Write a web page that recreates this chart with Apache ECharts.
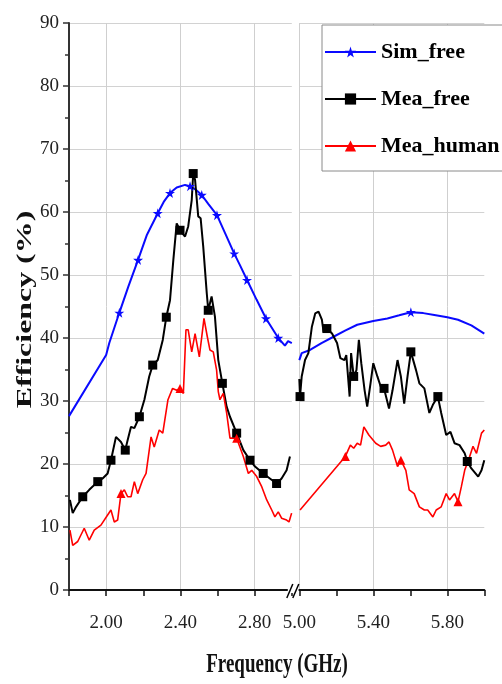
<!DOCTYPE html>
<html>
<head>
<meta charset="utf-8">
<script src="https://cdn.jsdelivr.net/npm/echarts@6/dist/echarts.min.js"></script>
<style>
html,body{margin:0;padding:0;background:#fff;}
#chart{width:502px;height:684px;}
</style>
</head>
<body>
<div id="chart"></div>
<script>
// ---- data ----
const seriesNames = ['Sim_free', 'Mea_free', 'Mea_human'];
const leftTickLabels = ['2.00', '2.40', '2.80'];
const rightTickLabels = ['5.00', '5.40', '5.80'];

// Sim_free (low band / high band) [GHz, %]
const simFreeLow = [[1.8,27.6],[2.0,37.3],[2.017,39.2],[2.071,44.0],[2.12,48.2],[2.172,52.4],[2.22,56.4],[2.278,59.8],[2.31,61.6],[2.344,63.0],[2.38,63.9],[2.425,64.3],[2.452,64.1],[2.48,63.6],[2.515,62.7],[2.55,61.3],[2.597,59.5],[2.64,56.7],[2.69,53.4],[2.72,51.6],[2.759,49.2],[2.81,46.1],[2.861,43.1],[2.927,40.0],[2.963,38.8],[2.98,39.5],[3.0,39.2]];
const simFreeHigh = [[5.0,36.5],[5.013,37.6],[5.058,38.1],[5.12,39.2],[5.185,40.2],[5.25,41.2],[5.313,42.1],[5.4,42.7],[5.476,43.1],[5.54,43.6],[5.603,44.1],[5.67,43.95],[5.73,43.65],[5.8,43.3],[5.858,42.9],[5.93,42.0],[6.0,40.7]];
const simFreeMarks = [2.071,2.172,2.278,2.344,2.452,2.515,2.597,2.69,2.759,2.861,2.927,5.603];

// Mea_free
const meaFreeLow = [[1.805,14.3],[1.82,12.2],[1.838,13.2],[1.874,14.8],[1.909,15.9],[1.955,17.2],[1.981,17.7],[2.008,18.5],[2.026,20.6],[2.053,24.3],[2.08,23.5],[2.103,22.2],[2.116,23.8],[2.134,25.9],[2.152,25.7],[2.179,27.5],[2.206,30.2],[2.232,33.9],[2.251,35.7],[2.278,36.5],[2.305,39.7],[2.324,43.3],[2.344,46.0],[2.362,52.4],[2.38,58.2],[2.398,57.1],[2.425,56.1],[2.442,57.7],[2.461,61.9],[2.469,66.1],[2.479,65.1],[2.496,59.3],[2.509,59.0],[2.523,54.5],[2.542,47.1],[2.55,44.4],[2.568,46.6],[2.586,43.4],[2.604,36.5],[2.626,32.8],[2.649,29.1],[2.667,27.5],[2.703,24.9],[2.739,22.2],[2.775,20.6],[2.802,19.6],[2.846,18.5],[2.882,17.7],[2.918,16.9],[2.945,17.7],[2.972,19.0],[2.99,21.2]];
const meaFreeHigh = [[5.0,33.5],[5.004,30.7],[5.013,33.9],[5.031,36.5],[5.049,37.6],[5.068,41.8],[5.086,43.9],[5.104,44.2],[5.122,42.9],[5.131,41.0],[5.149,41.5],[5.177,40.7],[5.204,39.2],[5.222,36.8],[5.244,36.5],[5.254,37.3],[5.272,30.7],[5.28,37.6],[5.294,33.9],[5.309,34.9],[5.322,39.7],[5.335,36.0],[5.353,31.7],[5.367,29.1],[5.385,32.8],[5.4,36.0],[5.422,33.9],[5.44,32.3],[5.458,32.0],[5.485,28.8],[5.504,31.7],[5.531,36.5],[5.549,33.9],[5.567,29.6],[5.585,33.9],[5.603,37.8],[5.631,34.9],[5.649,32.8],[5.676,32.0],[5.703,28.1],[5.722,29.4],[5.749,30.7],[5.767,28.1],[5.794,24.6],[5.817,25.1],[5.839,23.3],[5.866,23.0],[5.894,21.7],[5.908,20.4],[5.93,19.3],[5.967,18.0],[5.985,19.0],[6.0,20.6]];
const meaFreeMarks = [1.874,1.955,2.026,2.103,2.179,2.251,2.324,2.398,2.469,2.55,2.626,2.703,2.775,2.846,2.918,5.004,5.149,5.294,5.458,5.603,5.749,5.908];

// Mea_human
const meaHumanLow = [[1.805,9.5],[1.82,7.1],[1.847,7.7],[1.882,9.8],[1.909,7.9],[1.936,9.5],[1.972,10.3],[2.008,11.9],[2.026,12.7],[2.044,10.8],[2.062,11.1],[2.08,15.3],[2.098,15.9],[2.116,14.8],[2.134,14.8],[2.152,17.2],[2.17,15.3],[2.197,17.5],[2.215,18.5],[2.242,24.3],[2.259,22.7],[2.286,25.4],[2.305,24.9],[2.333,30.2],[2.358,32.0],[2.38,31.7],[2.398,32.0],[2.416,31.2],[2.43,41.3],[2.442,41.3],[2.461,37.8],[2.479,40.7],[2.502,37.0],[2.527,43.1],[2.545,40.2],[2.559,38.1],[2.577,37.8],[2.595,34.9],[2.604,31.5],[2.613,30.2],[2.631,31.2],[2.649,28.1],[2.667,24.1],[2.703,24.1],[2.739,21.2],[2.766,18.5],[2.784,19.0],[2.811,18.0],[2.838,16.4],[2.865,14.3],[2.892,12.7],[2.909,11.6],[2.927,12.4],[2.945,11.4],[2.972,11.1],[2.985,10.8],[2.999,12.2]];
const meaHumanHigh = [[5.004,12.7],[5.249,21.2],[5.276,23.0],[5.294,22.5],[5.313,23.3],[5.331,23.0],[5.349,25.9],[5.376,24.6],[5.413,23.3],[5.44,22.8],[5.467,23.0],[5.485,23.5],[5.504,22.2],[5.531,19.6],[5.549,20.6],[5.576,19.0],[5.594,15.9],[5.621,15.3],[5.649,13.2],[5.676,12.7],[5.694,12.7],[5.722,11.6],[5.74,12.7],[5.767,13.2],[5.794,15.3],[5.812,14.3],[5.839,15.3],[5.858,14.0],[5.876,16.4],[5.894,19.0],[5.921,21.2],[5.939,22.8],[5.958,21.7],[5.985,24.9],[6.0,25.4]];
const meaHumanMarks = [2.08,2.398,2.703,5.249,5.549,5.858];

// ---- styles ----
const FONT = 'Liberation Serif';
const STAR = 'path://M50,0 L61,35 L98,35 L68,57 L79,91 L50,70 L21,91 L32,57 L2,35 L39,35 Z';
const styles = {
  'Sim_free': {color: '#0a0aff', symbol: STAR, size: 10, width: 2},
  'Mea_free': {color: '#000000', symbol: 'rect', size: 9, width: 2},
  'Mea_human': {color: '#ff0000', symbol: 'triangle', size: 9, width: 1.6}
};

function buildData(pts, marks) {
  return pts.map(p => {
    const isMark = marks.some(m => Math.abs(m - p[0]) < 1e-6);
    return isMark ? {value: p} : {value: p, symbol: 'none'};
  });
}

function mkSeries(name, pts, marks, gi) {
  const s = styles[name];
  return {
    name: name, type: 'line', xAxisIndex: gi, yAxisIndex: gi,
    data: buildData(pts, marks),
    symbol: s.symbol, symbolSize: s.size, showAllSymbol: true,
    lineStyle: {color: s.color, width: s.width},
    itemStyle: {color: s.color},
    emphasis: {disabled: true}, z: 3
  };
}

function xAxisDef(gi, min, max, labels, colors) {
  return {
    type: 'value', gridIndex: gi, min: min, max: max, interval: 0.2,
    axisLine: {show: true, onZero: false, lineStyle: {color: '#111', width: 2}},
    axisTick: {show: true, length: 6, lineStyle: {color: '#111', width: 1.5}},
    axisLabel: {
      margin: 24, fontSize: 19, fontFamily: FONT, color: '#222',
      showMinLabel: true, showMaxLabel: true,
      formatter: v => { const s = v.toFixed(2); return labels.includes(s) ? s : ''; }
    },
    splitLine: {show: true, showMinLine: true, showMaxLine: true, lineStyle: {color: colors, width: 1}}
  };
}

function yAxisDef(gi, visible) {
  return {
    type: 'value', gridIndex: gi, min: 0, max: 90, interval: 10,
    axisLine: {show: visible, lineStyle: {color: '#333', width: 2}},
    axisTick: {show: visible, length: 6, lineStyle: {color: '#333', width: 1.5}},
    minorTick: {show: visible, splitNumber: 2, length: 4, lineStyle: {color: '#333', width: 1.5}},
    axisLabel: {show: visible, margin: 10, fontSize: 19, fontFamily: FONT, color: '#222'},
    splitLine: {show: true, lineStyle: {color: '#d2d2d2', width: 1}}
  };
}

const chart = echarts.init(document.getElementById('chart'), null, {renderer: 'canvas'});
const option = {
  backgroundColor: '#fff',
  animation: false,
  grid: [
    {left: 69, top: 23, width: 222.8, height: 567},
    {left: 299.3, top: 23, width: 185, height: 567}
  ],
  xAxis: [
    xAxisDef(0, 1.8, 3.0, leftTickLabels, ['rgba(0,0,0,0)', '#cfcfcf']),
    xAxisDef(1, 5.0, 6.0, rightTickLabels, ['#cfcfcf', 'rgba(0,0,0,0)'])
  ],
  yAxis: [yAxisDef(0, true), yAxisDef(1, false)],
  legend: {
    data: seriesNames, orient: 'vertical', left: 322, top: 25,
    padding: [14, 4, 12, 2], itemGap: 21, itemWidth: 51, itemHeight: 14,
    backgroundColor: '#fff', borderColor: '#8a8a8a', borderWidth: 1,
    textStyle: {fontFamily: FONT, fontWeight: 'bold', fontSize: 22, color: '#000', lineHeight: 26},
    selectedMode: false
  },
  series: [
    mkSeries('Sim_free', simFreeLow, simFreeMarks, 0),
    mkSeries('Sim_free', simFreeHigh, simFreeMarks, 1),
    mkSeries('Mea_free', meaFreeLow, meaFreeMarks, 0),
    mkSeries('Mea_free', meaFreeHigh, meaFreeMarks, 1),
    mkSeries('Mea_human', meaHumanLow, meaHumanMarks, 0),
    mkSeries('Mea_human', meaHumanHigh, meaHumanMarks, 1)
  ]
};
chart.setOption(option);

// axis titles and break marks
const pEnd = chart.convertToPixel({gridIndex: 0}, [3.0, 0]);
const pMid = chart.convertToPixel({gridIndex: 0}, [1.8, 45]);
const bx = pEnd[0], by = pEnd[1];
chart.setOption({
  graphic: [
    {type: 'rect', shape: {x: bx - 4, y: by - 3, width: 8, height: 6}, style: {fill: '#fff'}, z: 10},
    {type: 'line', shape: {x1: bx - 5, y1: by + 8, x2: bx + 1, y2: by - 6}, style: {stroke: '#000', lineWidth: 1.5}, z: 11},
    {type: 'line', shape: {x1: bx + 1, y1: by + 8, x2: bx + 7, y2: by - 6}, style: {stroke: '#000', lineWidth: 1.5}, z: 11},
    {type: 'text', x: 25, y: pMid[1] + 3, rotation: Math.PI / 2, scaleX: 1.45,
     style: {text: 'Efficiency (%)', font: 'bold 22px ' + FONT, fill: '#111', align: 'center', verticalAlign: 'middle'}, z: 10},
    {type: 'text', x: 277, y: 665, scaleY: 1.4,
     style: {text: 'Frequency (GHz)', font: 'bold 19px ' + FONT, fill: '#111', align: 'center', verticalAlign: 'middle'}, z: 10}
  ]
});
</script>
</body>
</html>
